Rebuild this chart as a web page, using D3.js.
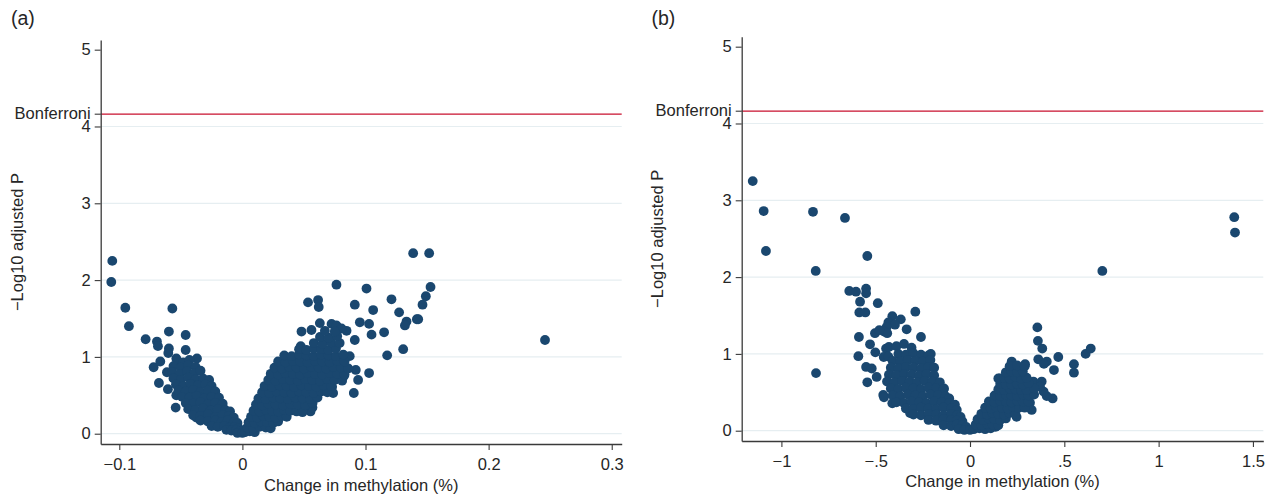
<!DOCTYPE html>
<html>
<head>
<meta charset="utf-8">
<script src="https://cdn.jsdelivr.net/npm/d3@7"></script>
<style>
  body { margin: 0; background: #fff; }
  text { font-family: "Liberation Sans", Arial, sans-serif; fill: #262626; }
</style>
</head>
<body>
<div id="chart"></div>
<script>
// threshold and ticks
const bonferroni = 4.16
const yTicks = [0, 1, 2, 3, 4, 5]
const xTicksA = [-0.1, 0, 0.1, 0.2, 0.3]
const xLabelsA = ["\u22120.1", "0", "0.1", "0.2", "0.3"]
const xTicksB = [-1, -0.5, 0, 0.5, 1, 1.5]
const xLabelsB = ["\u22121", "\u2212.5", "0", ".5", "1", "1.5"]

// panel (a): [change in methylation, -log10 adjusted P]
const pointsA = [
  // left, scattered
  [-0.1057,2.25],[-0.1065,1.975],[-0.0951,1.64],[-0.0922,1.40],[-0.0786,1.23],[-0.0694,1.20],
  [-0.0686,1.14],[-0.0569,1.63],[-0.0597,1.33],[-0.0461,1.285],[-0.0597,1.11],[-0.0602,1.05],
  [-0.0461,1.09],[-0.0537,0.98],[-0.0369,0.98],[-0.0721,0.865],[-0.0667,0.94],[-0.0678,0.66],
  [-0.0605,0.58],[-0.0537,0.50],[-0.0542,0.34],[-0.0613,0.80],[-0.0374,0.21],
  // left, dense arm
  [-0.053,0.95],[-0.048,0.93],[-0.043,0.96],
  [-0.056,0.88],[-0.050,0.86],[-0.044,0.89],[-0.038,0.87],
  [-0.057,0.80],[-0.051,0.78],[-0.045,0.81],[-0.039,0.79],[-0.034,0.82],
  [-0.056,0.72],[-0.050,0.70],[-0.044,0.73],[-0.038,0.71],[-0.032,0.72],[-0.027,0.70],
  [-0.054,0.64],[-0.048,0.62],[-0.042,0.65],[-0.036,0.63],[-0.030,0.64],[-0.025,0.62],
  [-0.052,0.56],[-0.046,0.55],[-0.040,0.57],[-0.034,0.54],[-0.028,0.56],[-0.022,0.55],
  [-0.049,0.48],[-0.043,0.47],[-0.037,0.49],[-0.031,0.46],[-0.025,0.48],[-0.019,0.47],
  [-0.046,0.40],[-0.040,0.39],[-0.034,0.41],[-0.028,0.38],[-0.022,0.40],[-0.016,0.39],
  [-0.044,0.32],[-0.038,0.31],[-0.032,0.33],[-0.026,0.30],[-0.020,0.32],[-0.014,0.31],[-0.010,0.29],
  [-0.040,0.24],[-0.034,0.23],[-0.028,0.25],[-0.022,0.22],[-0.016,0.24],[-0.011,0.23],[-0.007,0.21],
  [-0.034,0.17],[-0.028,0.16],[-0.022,0.17],[-0.017,0.15],[-0.012,0.17],[-0.007,0.15],[-0.004,0.14],
  [-0.025,0.10],[-0.020,0.09],[-0.015,0.10],[-0.010,0.08],[-0.006,0.09],[-0.003,0.07],
  [-0.013,0.05],[-0.009,0.04],[-0.005,0.05],[-0.002,0.03],
  [-0.004,0.01],[0.000,0.01],
  // right, scattered
  [0.1387,2.35],[0.1517,2.35],[0.0764,1.94],[0.1008,1.89],[0.0533,1.71],[0.0615,1.74],
  [0.062,1.65],[0.0913,1.68],[0.1062,1.61],[0.1211,1.75],[0.1273,1.58],[0.1417,1.49],
  [0.1333,1.46],[0.132,1.41],[0.0954,1.45],[0.1029,1.43],[0.1049,1.29],[0.1151,1.32],
  [0.0913,1.22],[0.048,1.33],[0.0561,1.35],[0.0474,1.14],[0.1176,1.02],[0.1306,1.10],
  [0.0921,0.83],[0.1029,0.79],[0.094,0.70],[0.0905,0.53],[0.0824,0.75],[0.0729,0.61],
  [0.0737,0.53],[0.0558,0.37],[0.0553,0.29],[0.0488,0.28],[0.1528,1.91],[0.149,1.79],
  [0.1463,1.68],[0.1428,1.49],[0.2458,1.22],[0.0872,1.01],[0.0846,1.34],[0.0629,1.44],
  [0.0724,1.43],[0.0764,1.41],[0.0805,1.37],[0.0569,0.34],
  // right, dense arm
  [0.002,0.02],[0.006,0.03],[0.010,0.02],
  [0.004,0.08],[0.009,0.07],[0.014,0.09],[0.019,0.08],[0.023,0.07],
  [0.005,0.15],[0.010,0.14],[0.015,0.16],[0.020,0.15],[0.025,0.14],[0.029,0.16],
  [0.007,0.22],[0.012,0.21],[0.017,0.23],[0.022,0.22],[0.027,0.21],[0.032,0.23],[0.036,0.22],
  [0.009,0.30],[0.014,0.29],[0.019,0.31],[0.024,0.30],[0.029,0.29],[0.034,0.31],[0.039,0.30],[0.044,0.29],[0.049,0.31],
  [0.011,0.38],[0.016,0.37],[0.021,0.39],[0.027,0.38],[0.033,0.37],[0.039,0.39],[0.045,0.38],[0.051,0.37],[0.057,0.40],
  [0.013,0.46],[0.019,0.45],[0.025,0.47],[0.031,0.46],[0.037,0.45],[0.043,0.47],[0.049,0.46],[0.055,0.45],[0.061,0.47],
  [0.016,0.54],[0.022,0.53],[0.028,0.55],[0.034,0.54],[0.040,0.53],[0.046,0.55],[0.052,0.54],[0.058,0.53],[0.064,0.55],[0.069,0.54],
  [0.018,0.62],[0.024,0.61],[0.030,0.63],[0.036,0.62],[0.042,0.61],[0.048,0.63],[0.054,0.62],[0.060,0.61],[0.066,0.63],[0.072,0.62],
  [0.021,0.70],[0.027,0.69],[0.033,0.71],[0.039,0.70],[0.045,0.69],[0.051,0.71],[0.057,0.70],[0.063,0.69],[0.069,0.71],[0.075,0.70],[0.081,0.69],
  [0.023,0.78],[0.029,0.77],[0.035,0.79],[0.041,0.78],[0.047,0.77],[0.053,0.79],[0.059,0.78],[0.065,0.77],[0.071,0.79],[0.077,0.78],[0.083,0.77],
  [0.026,0.86],[0.032,0.85],[0.038,0.87],[0.044,0.86],[0.050,0.85],[0.056,0.87],[0.062,0.86],[0.068,0.85],[0.074,0.87],[0.080,0.86],[0.086,0.85],
  [0.029,0.94],[0.035,0.93],[0.041,0.95],[0.047,0.94],[0.053,0.93],[0.059,0.95],[0.065,0.94],[0.071,0.93],[0.077,0.95],[0.083,0.94],
  [0.034,1.02],[0.040,1.01],[0.046,1.03],[0.052,1.02],[0.058,1.01],[0.064,1.03],[0.070,1.02],[0.076,1.01],[0.082,1.03],
  [0.046,1.10],[0.052,1.09],[0.058,1.11],[0.064,1.10],[0.070,1.09],[0.076,1.11],
  [0.058,1.18],[0.065,1.17],[0.072,1.19],[0.079,1.18],
  [0.063,1.26],[0.070,1.25],[0.077,1.27],
  [0.067,1.34],[0.075,1.33]
]

// panel (b)
const pointsB = [
  // left, scattered
  [-1.152,3.25],[-1.094,2.86],[-0.8325,2.85],[-0.663,2.77],[-1.082,2.34],[-0.818,2.08],
  [-0.5445,2.275],[-0.8165,0.75],[-0.64,1.82],[-0.6045,1.81],[-0.551,1.85],[-0.551,1.79],
  [-0.583,1.68],[-0.489,1.66],[-0.587,1.54],[-0.555,1.54],[-0.29,1.55],[-0.412,1.49],
  [-0.367,1.45],[-0.433,1.41],[-0.398,1.38],[-0.442,1.35],[-0.456,1.29],[-0.439,1.27],
  [-0.336,1.32],[-0.504,1.27],[-0.481,1.31],[-0.589,1.22],[-0.26,1.22],[-0.53,1.125],
  [-0.502,1.02],[-0.592,0.97],[-0.445,1.07],[-0.4575,0.96],[-0.433,0.965],[-0.551,0.83],
  [-0.521,0.81],[-0.495,0.70],[-0.5445,0.63],[-0.46,0.465],[-0.456,0.435],[-0.412,0.357],
  [-0.208,1.0],[-0.371,0.44],[-0.318,0.23],[-0.138,0.55],
  // left, dense arm
  [-0.43,1.09],[-0.39,1.10],[-0.35,1.13],[-0.31,1.08],
  [-0.38,1.00],[-0.34,0.99],[-0.30,1.01],[-0.26,0.99],[-0.22,0.98],
  [-0.41,0.91],[-0.37,0.90],[-0.33,0.92],[-0.29,0.91],[-0.25,0.90],[-0.21,0.92],
  [-0.42,0.82],[-0.38,0.81],[-0.34,0.83],[-0.30,0.82],[-0.26,0.81],[-0.22,0.83],[-0.19,0.82],
  [-0.43,0.73],[-0.39,0.72],[-0.35,0.74],[-0.31,0.73],[-0.27,0.72],[-0.23,0.74],[-0.19,0.72],
  [-0.44,0.64],[-0.40,0.63],[-0.36,0.65],[-0.32,0.64],[-0.28,0.63],[-0.24,0.65],[-0.20,0.64],[-0.16,0.63],
  [-0.42,0.55],[-0.38,0.54],[-0.34,0.56],[-0.30,0.55],[-0.26,0.54],[-0.22,0.56],[-0.18,0.55],[-0.14,0.54],
  [-0.41,0.46],[-0.37,0.45],[-0.33,0.47],[-0.29,0.46],[-0.25,0.45],[-0.21,0.47],[-0.17,0.46],[-0.13,0.45],[-0.11,0.42],
  [-0.39,0.37],[-0.35,0.36],[-0.31,0.38],[-0.27,0.37],[-0.23,0.36],[-0.19,0.38],[-0.15,0.37],[-0.11,0.36],[-0.08,0.34],
  [-0.34,0.29],[-0.30,0.28],[-0.26,0.30],[-0.22,0.29],[-0.18,0.28],[-0.14,0.30],[-0.10,0.29],[-0.07,0.27],
  [-0.30,0.21],[-0.26,0.20],[-0.22,0.22],[-0.18,0.21],[-0.14,0.20],[-0.10,0.22],[-0.07,0.20],[-0.05,0.18],
  [-0.22,0.14],[-0.18,0.13],[-0.14,0.15],[-0.10,0.14],[-0.07,0.13],[-0.04,0.12],
  [-0.14,0.07],[-0.10,0.06],[-0.07,0.08],[-0.04,0.07],[-0.02,0.05],
  [-0.06,0.02],[-0.03,0.01],[0.00,0.01],
  // right, scattered
  [1.401,2.78],[1.405,2.58],[0.7015,2.08],[0.357,1.345],[0.36,1.17],[0.383,1.07],
  [0.468,0.96],[0.613,1.0],[0.64,1.07],[0.551,0.865],[0.551,0.755],[0.445,0.79],
  [0.221,0.90],[0.292,0.865],[0.274,0.78],[0.362,0.93],[0.407,0.90],[0.392,0.87],
  [0.438,0.42],[0.407,0.45],[0.39,0.51],[0.318,0.365],[0.327,0.27],[0.247,0.18],
  [0.1767,0.51],[0.159,0.68],[0.203,0.68],[0.265,0.66],[0.283,0.71],[0.336,0.64],
  [0.38,0.64],[0.371,0.575],[0.136,0.05],[0.23,0.79],
  // right, dense arm
  [0.02,0.02],[0.05,0.03],[0.08,0.02],[0.11,0.03],
  [0.03,0.08],[0.06,0.07],[0.09,0.09],[0.12,0.08],[0.15,0.07],
  [0.04,0.15],[0.07,0.14],[0.10,0.16],[0.13,0.15],[0.16,0.14],[0.19,0.16],
  [0.06,0.22],[0.09,0.21],[0.12,0.23],[0.15,0.22],[0.18,0.21],[0.21,0.23],[0.24,0.22],
  [0.08,0.30],[0.11,0.29],[0.14,0.31],[0.17,0.30],[0.20,0.29],[0.23,0.31],[0.26,0.30],[0.29,0.30],
  [0.10,0.38],[0.13,0.37],[0.16,0.39],[0.19,0.38],[0.22,0.37],[0.25,0.39],[0.28,0.38],[0.31,0.38],
  [0.13,0.46],[0.16,0.45],[0.19,0.47],[0.22,0.46],[0.25,0.45],[0.28,0.47],[0.31,0.46],[0.34,0.47],
  [0.15,0.54],[0.18,0.53],[0.21,0.55],[0.24,0.54],[0.27,0.53],[0.30,0.53],[0.34,0.55],
  [0.16,0.61],[0.19,0.60],[0.22,0.60],[0.25,0.61],[0.28,0.60],[0.31,0.62],
  [0.15,0.68],[0.18,0.69],[0.21,0.68],[0.24,0.70],[0.27,0.68],[0.30,0.69],
  [0.19,0.76],[0.22,0.77],[0.25,0.76],[0.28,0.77],
  [0.21,0.84],[0.25,0.85],[0.29,0.84]
]

const svg = d3.select("#chart")
  .append("svg")
  .attr("width", 1271)
  .attr("height", 496)

const drawPanel = (cfg) => {
  const x = d3.scaleLinear().domain(cfg.xDomain).range([cfg.left, cfg.right])
  const y = d3.scaleLinear().domain(cfg.yDomain).range([cfg.bottom, cfg.top])
  const g = svg.append("g")

  // gridlines
  g.append("g")
    .selectAll("line")
    .data(yTicks.filter(d => d < 5))
    .enter()
    .append("line")
      .attr("x1", cfg.left)
      .attr("x2", cfg.right)
      .attr("y1", d => y(d))
      .attr("y2", d => y(d))
      .attr("stroke", "#e6eef1")
      .attr("stroke-width", 1.2)

  // bonferroni line
  g.append("line")
    .attr("x1", cfg.left)
    .attr("x2", cfg.right)
    .attr("y1", y(bonferroni))
    .attr("y2", y(bonferroni))
    .attr("stroke", "#c8102e")
    .attr("stroke-width", 1.3)

  // points
  g.append("g")
    .selectAll("circle")
    .data(cfg.points)
    .enter()
    .append("circle")
      .attr("cx", d => x(d[0]))
      .attr("cy", d => y(d[1]))
      .attr("r", 4.9)
      .attr("fill", "#1a476f")

  // y axis
  const yAxis = g.append("g")
    .attr("transform", "translate(" + cfg.left + ",0)")
    .call(d3.axisLeft(y).tickValues(yTicks).tickFormat(d3.format("d")).tickSize(6).tickSizeOuter(0).tickPadding(4))
  yAxis.select(".domain").attr("stroke", "#3a3a3a").attr("stroke-width", 1.3)
  yAxis.selectAll(".tick line").attr("stroke", "#3a3a3a").attr("stroke-width", 1.1)
  yAxis.selectAll("text").style("font-size", "16.5px").attr("fill", "#262626")

  // bonferroni tick + label
  g.append("line")
    .attr("x1", cfg.left - 6)
    .attr("x2", cfg.left)
    .attr("y1", y(bonferroni))
    .attr("y2", y(bonferroni))
    .attr("stroke", "#3a3a3a")
    .attr("stroke-width", 1.1)
  g.append("text")
    .attr("x", cfg.left - 10)
    .attr("y", y(bonferroni))
    .attr("dy", "0.3em")
    .attr("text-anchor", "end")
    .style("font-size", "16.5px")
    .text("Bonferroni")

  // x axis
  const xAxis = g.append("g")
    .attr("transform", "translate(0," + cfg.bottom + ")")
    .call(d3.axisBottom(x).tickValues(cfg.xTicks).tickFormat((d, i) => cfg.xLabels[i]).tickSize(6).tickSizeOuter(0).tickPadding(8))
  xAxis.select(".domain").attr("stroke", "#3a3a3a").attr("stroke-width", 1.3)
  xAxis.selectAll(".tick line").attr("stroke", "#3a3a3a").attr("stroke-width", 1.1)
  xAxis.selectAll("text").style("font-size", "16.5px").attr("fill", "#262626")

  // titles
  g.append("text")
    .attr("transform", "translate(" + cfg.yTitleX + "," + (cfg.top + cfg.bottom) / 2 + ") rotate(-90)")
    .attr("text-anchor", "middle")
    .style("font-size", "16.5px")
    .text("\u2212Log10 adjusted P")
  g.append("text")
    .attr("x", (cfg.left + cfg.right) / 2)
    .attr("y", cfg.xTitleY)
    .attr("text-anchor", "middle")
    .style("font-size", "16.5px")
    .text("Change in methylation (%)")
  g.append("text")
    .attr("x", cfg.tagX)
    .attr("y", 25)
    .style("font-size", "19.5px")
    .text(cfg.tag)
}

drawPanel({
  tag: "(a)", tagX: 11,
  points: pointsA, xTicks: xTicksA, xLabels: xLabelsA,
  xDomain: [-0.1151, 0.3081], yDomain: [-0.134, 5.126],
  left: 100.7, right: 621.7, top: 40, bottom: 444,
  yTitleX: 23, xTitleY: 491
})

drawPanel({
  tag: "(b)", tagX: 651.5,
  points: pointsB, xTicks: xTicksB, xLabels: xLabelsB,
  xDomain: [-1.2105, 1.555], yDomain: [-0.134, 5.13],
  left: 741.7, right: 1263.3, top: 36.7, bottom: 441,
  yTitleX: 663, xTitleY: 487
})
</script>
</body>
</html>
